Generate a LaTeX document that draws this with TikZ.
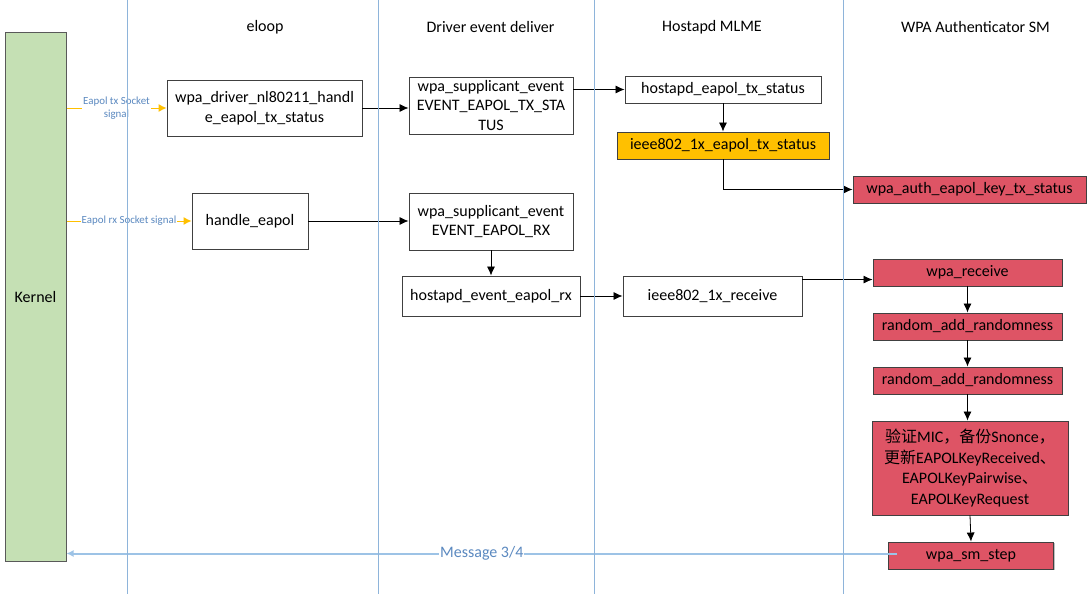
\documentclass[tikz,border=0pt]{standalone}
\usepackage{fontspec}
\setmainfont{Carlito}
\newfontfamily\cjk{Noto Sans CJK SC}
\usetikzlibrary{arrows.meta,shadows}
\definecolor{kgreen}{HTML}{C5E0B4}
\definecolor{boxline}{HTML}{404040}
\definecolor{ybox}{HTML}{FFC000}
\definecolor{rbox}{HTML}{DE5465}
\definecolor{lane}{HTML}{8EB4DA}
\definecolor{lbl}{HTML}{5B89C0}
\definecolor{msgline}{HTML}{9DC3E6}
\begin{document}
\begin{tikzpicture}[x=1pt,y=-1pt,
  bodyfont/.style={font=\fontsize{16}{19.5}\selectfont},
  box/.style={draw=boxline, line width=0.9pt, fill=white, inner sep=0pt, align=center, bodyfont,
     drop shadow={shadow xshift=1.2pt, shadow yshift=-1.2pt, fill=black!25, opacity=1}},
  whitebox/.style={box, fill=white},
  yellowbox/.style={box, fill=ybox},
  redbox/.style={box, fill=rbox},
  hdr/.style={font=\fontsize{16}{19}\selectfont, inner sep=0pt},
  arr/.style={draw=black, line width=0.8pt, -{Latex[length=9pt,width=8pt]}},
  sig/.style={draw=ybox, line width=1pt, -{Latex[length=8pt,width=8pt]}},
  siglbl/.style={font=\fontsize{10.9}{12.5}\selectfont, text=lbl, fill=white, inner sep=1pt, align=center},
  lanestyle/.style={draw=lane, line width=0.7pt},
  msg/.style={draw=msgline, line width=2pt, -{Latex[length=7pt,width=7pt]}},
  msglbl/.style={font=\fontsize{16}{19}\selectfont, text=lbl, fill=white, inner sep=1pt}
]
\useasboundingbox (0,0) rectangle (1092,594);
\fill[white] (0,0) rectangle (1092,594);

% headers
\node[hdr] (h1) at (265,27) {eloop};
\node[hdr] (h2) at (490.5,27) {Driver event deliver};
\node[hdr] (h3) at (712,27) {Hostapd MLME};
\node[hdr] (h4) at (975.5,27) {WPA Authenticator SM};

% kernel
\node[draw=black!65, line width=1pt, fill=kgreen, minimum width=61pt, minimum height=528pt, inner sep=0pt, bodyfont,
      drop shadow={shadow xshift=1.2pt, shadow yshift=-1.2pt, fill=black!25, opacity=1}]
  (kernel) at (35.5,297) {Kernel};

% boxes
\node[whitebox, minimum width=195pt, minimum height=56pt] (A) at (264.5,108) {wpa\_driver\_nl80211\_handl\\e\_eapol\_tx\_status};
\node[whitebox, minimum width=116pt, minimum height=56pt] (B) at (250,221) {handle\_eapol};
\node[whitebox, minimum width=164pt, minimum height=57pt] (C) at (491,105.5) {wpa\_supplicant\_event\\EVENT\_EAPOL\_TX\_STA\\TUS};
\node[whitebox, minimum width=164pt, minimum height=57pt] (D) at (491,221.5) {wpa\_supplicant\_event\\EVENT\_EAPOL\_RX};
\node[whitebox, minimum width=178pt, minimum height=40pt] (E) at (491,296) {hostapd\_event\_eapol\_rx};
\node[whitebox, minimum width=179pt, minimum height=40pt] (F) at (712.5,296) {ieee802\_1x\_receive};
\node[whitebox, minimum width=196pt, minimum height=27pt] (G) at (723,89.5) {hostapd\_eapol\_tx\_status};
\node[yellowbox, minimum width=212pt, minimum height=27pt] (H) at (723,145.5) {ieee802\_1x\_eapol\_tx\_status};
\node[redbox, minimum width=233pt, minimum height=27pt] (I) at (969.5,189.5) {wpa\_auth\_eapol\_key\_tx\_status};
\node[redbox, minimum width=189pt, minimum height=27pt] (J) at (967.5,272.5) {wpa\_receive};
\node[redbox, minimum width=189pt, minimum height=27pt] (K) at (967.5,326.5) {random\_add\_randomness};
\node[redbox, minimum width=189pt, minimum height=27pt] (L) at (967.5,380.5) {random\_add\_randomness};
\node[redbox, minimum width=196pt, minimum height=94pt, font=\fontsize{16}{20.5}\selectfont] (M) at (970,468)
  {{\cjk 验证}MIC{\cjk ，备份}Snonce{\cjk ，}\\{\cjk 更新}EAPOLKeyReceived{\cjk 、}\\EAPOLKeyPairwise{\cjk 、}\\EAPOLKeyRequest};
\node[redbox, minimum width=165pt, minimum height=27pt] (N) at (971,555.5) {wpa\_sm\_step};

% socket signals
\draw[sig] (kernel.east |- A.west) -- node[siglbl] {Eapol tx Socket\\signal} (A.west);
\draw[sig] (kernel.east |- B.west) -- node[siglbl] {Eapol rx Socket signal} (B.west);

% connectors
\draw[arr] (A.east) -- (A.east -| C.west);
\draw[arr] (B.east) -- (B.east -| D.west);
\draw[arr] (D.south) -- (E.north);
\draw[arr] (E.east) -- (F.west);
\draw[arr] (C.east |- G.west) -- (G.west);
\draw[arr] (G.south) -- (H.north);
\draw[arr] (H.south) |- (I.west);
\coordinate (fout) at ([yshift=-4pt]F.north east);
\draw[arr] (fout) -- (fout -| J.west);
\draw[arr] (J.south) -- (K.north);
\draw[arr] (K.south) -- (L.north);
\draw[arr] (L.south) -- (L.south |- M.north);
\draw[arr] (M.south) -- (N.north);

% message back to kernel
\coordinate (mstart) at ([xshift=9pt,yshift=2pt]N.west);
\draw[msg] (mstart) -- node[msglbl, pos=0.5] {Message 3/4} (mstart -| kernel.east);

% swim lanes
\draw[lanestyle] (127,0) -- (127,594);
\draw[lanestyle] (378,0) -- (378,594);
\draw[lanestyle] (594,0) -- (594,594);
\draw[lanestyle] (843,0) -- (843,594);
\end{tikzpicture}
\end{document}
